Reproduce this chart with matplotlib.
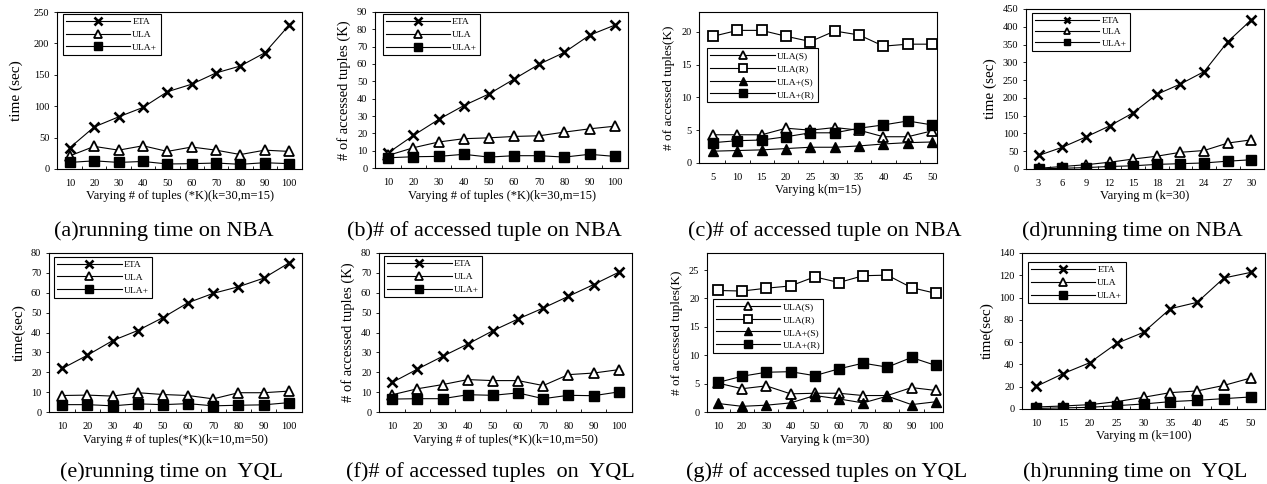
import matplotlib
matplotlib.use("Agg")
import matplotlib.pyplot as plt
from matplotlib.ticker import FixedLocator, NullFormatter

plt.rcParams['font.family'] = ['Liberation Serif', 'DejaVu Serif']

W, H = 1267, 484

# ---------------- data ----------------
a_x = [10, 20, 30, 40, 50, 60, 70, 80, 90, 100]
a_eta = [34, 67, 83, 98, 123, 135, 153, 164, 185, 229]
a_ula = [21, 36, 30, 37, 28, 35, 30, 23, 30, 28]
a_ulap = [10.5, 13, 10.5, 12, 8, 8.5, 9.5, 7.5, 10, 8.5]

b_x = [10, 20, 30, 40, 50, 60, 70, 80, 90, 100]
b_eta = [8.8, 18.8, 28, 36, 42.7, 51.3, 59.9, 66.7, 76.6, 82.4]
b_ula = [7.3, 11.7, 15, 16.9, 17.4, 18.2, 18.6, 20.7, 22.6, 24.1]
b_ulap = [5.9, 6.5, 6.7, 7.9, 6.3, 7.1, 7.1, 6.3, 7.9, 6.7]

c_x = [5, 10, 15, 20, 25, 30, 35, 40, 45, 50]
c_ula_s = [4.3, 4.3, 4.3, 5.3, 5.0, 5.4, 5.0, 4.0, 4.0, 4.9]
c_ula_r = [19.3, 20.2, 20.2, 19.3, 18.5, 20.1, 19.5, 17.8, 18.1, 18.1]
c_ulap_s = [1.8, 1.9, 2.0, 2.2, 2.4, 2.4, 2.6, 2.9, 3.1, 3.2]
c_ulap_r = [3.1, 3.4, 3.5, 4.0, 4.6, 4.6, 5.3, 5.8, 6.4, 5.8]

d_x = [3, 6, 9, 12, 15, 18, 21, 24, 27, 30]
d_eta = [38, 61, 90, 121, 158, 210, 239, 274, 358, 420]
d_ula = [2, 7, 12, 19, 28, 36, 47, 52, 73, 82]
d_ulap = [0.5, 2, 4, 7, 9, 13, 15, 17, 22, 26]

e_x = [10, 20, 30, 40, 50, 60, 70, 80, 90, 100]
e_eta = [21.9, 28.6, 35.9, 41, 47.5, 55, 59.7, 63, 67.3, 74.9]
e_ula = [8.3, 8.5, 8, 9.7, 8.8, 8.3, 6.6, 9.7, 9.7, 10.5]
e_ulap = [3.7, 3.7, 3.1, 4.1, 3.7, 4.2, 3.1, 3.4, 3.6, 4.7]

f_x = [10, 20, 30, 40, 50, 60, 70, 80, 90, 100]
f_eta = [14.9, 21.6, 28, 34.2, 40.9, 46.8, 52.3, 58.2, 64.1, 70.3]
f_ula = [8.7, 11.7, 13.8, 16.3, 15.8, 15.8, 13.3, 18.8, 19.6, 21.3]
f_ulap = [6.5, 6.7, 6.7, 8.7, 8.4, 9.6, 6.7, 8.4, 8.2, 10.1]

g_x = [10, 20, 30, 40, 50, 60, 70, 80, 90, 100]
g_ula_s = [5.1, 4.1, 4.6, 3.2, 3.3, 3.3, 2.9, 2.9, 4.3, 3.8]
g_ula_r = [21.4, 21.3, 21.8, 22.2, 23.8, 22.8, 24.0, 24.1, 21.9, 20.9]
g_ulap_s = [1.5, 1.0, 1.2, 1.6, 2.9, 2.3, 1.6, 2.8, 1.3, 1.8]
g_ulap_r = [5.2, 6.3, 7.0, 7.1, 6.4, 7.6, 8.6, 7.9, 9.6, 8.2]

h_x = [10, 15, 20, 25, 30, 35, 40, 45, 50]
h_eta = [20.3, 31.7, 41.6, 58.9, 68.8, 90, 95.7, 117.6, 122.6]
h_ula = [1.8, 2.7, 3.9, 6.6, 10.5, 14.7, 16.2, 21.2, 27.8]
h_ulap = [0.5, 1, 1.5, 3, 4.5, 6.6, 7.8, 9.3, 10.8]

captions = ["(a)running time on NBA", "(b)# of accessed tuple on NBA",
            "(c)# of accessed tuple on NBA", "(d)running time on NBA",
            "(e)running time on  YQL", "(f)# of accessed tuples  on  YQL",
            "(g)# of accessed tuples on YQL", "(h)running time on  YQL"]

# ---------------- styles ----------------
STY = {
    'ETA': dict(marker='x', ms=6.5, mew=1.9, mfc='black', mec='black'),
    'ULA': dict(marker='^', ms=6.5, mew=1.3, mfc='white', mec='black'),
    'ULA+': dict(marker='s', ms=6.5, mew=1.0, mfc='black', mec='black'),
    'ULA(S)': dict(marker='^', ms=6.5, mew=1.3, mfc='white', mec='black'),
    'ULA(R)': dict(marker='s', ms=6.5, mew=1.3, mfc='white', mec='black'),
    'ULA+(S)': dict(marker='^', ms=6.5, mew=1.0, mfc='black', mec='black'),
    'ULA+(R)': dict(marker='s', ms=6.5, mew=1.0, mfc='black', mec='black'),
}

fig = plt.figure(figsize=(W / 100, H / 100), dpi=100)


def make_ax(l, r, t, b):
    return fig.add_axes([l / W, 1 - b / H, (r - l) / W, (b - t) / H])


def panel(box, xvals, series, ylim, yticks, ylabel, xlabel, leg_anchor,
          xl=(-0.53, None), ylab_fs=10, leg_spacing=0.45, ylab_pad=4,
          mscale=0.9):
    ax = make_ax(*box)
    idx = list(range(len(xvals)))
    for name, vals in series:
        ax.plot(idx, vals, color='black', lw=0.8, label=name, zorder=3,
                **STY[name])
    n = len(xvals)
    right = xl[1] if xl[1] is not None else n - 0.47
    ax.set_xlim(xl[0], right)
    ax.set_ylim(*ylim)
    ax.set_xticks(idx)
    ax.set_xticklabels([str(v) for v in xvals])
    ax.xaxis.set_minor_locator(FixedLocator([i + 0.5 for i in range(n - 1)]))
    ax.xaxis.set_minor_formatter(NullFormatter())
    ax.tick_params(axis='x', which='major', length=0, pad=7, labelsize=7.5)
    ax.tick_params(axis='x', which='minor', length=2.5, direction='in',
                   width=0.6)
    ax.set_yticks(yticks)
    ax.tick_params(axis='y', length=2.5, width=0.6, pad=3, labelsize=7.5)
    for s in ax.spines.values():
        s.set_linewidth(0.8)
    ax.set_ylabel(ylabel, fontsize=ylab_fs, labelpad=ylab_pad)
    ax.set_xlabel(xlabel, fontsize=9, labelpad=2)
    leg = ax.legend(loc='upper left', bbox_to_anchor=leg_anchor,
                    borderaxespad=0, fontsize=6.8, handlelength=6.8,
                    handletextpad=0.2, labelspacing=leg_spacing,
                    borderpad=0.35, fancybox=False, framealpha=1,
                    edgecolor='black', numpoints=1, markerscale=mscale)
    leg.get_frame().set_linewidth(0.8)
    return ax


panel((57, 302, 12, 169), a_x,
      [('ETA', a_eta), ('ULA', a_ula), ('ULA+', a_ulap)],
      (0, 250), range(0, 251, 50), 'time (sec)',
      'Varying # of tuples (*K)(k=30,m=15)', (0.024, 0.987), ylab_fs=11,
      ylab_pad=8)

panel((375, 628, 12, 168), b_x,
      [('ETA', b_eta), ('ULA', b_ula), ('ULA+', b_ulap)],
      (0, 90), range(0, 91, 10), '# of accessed tuples (K)',
      'Varying # of tuples (*K)(k=30,m=15)', (0.03, 0.985), ylab_fs=10.5)

panel((699, 937, 12, 163), c_x,
      [('ULA(S)', c_ula_s), ('ULA(R)', c_ula_r),
       ('ULA+(S)', c_ulap_s), ('ULA+(R)', c_ulap_r)],
      (0, 23), range(0, 21, 5), '# of accessed tuples(K)',
      'Varying k(m=15)', (0.034, 0.76), xl=(-0.58, 9.2), ylab_fs=9.5,
      mscale=0.8)

panel((1026, 1264, 9, 169), d_x,
      [('ETA', d_eta), ('ULA', d_ula), ('ULA+', d_ulap)],
      (0, 450), range(0, 451, 50), 'time (sec)',
      'Varying m (k=30)', (0.025, 0.975), ylab_fs=11, leg_spacing=0.3,
      mscale=0.75)

panel((49, 302, 253, 412), e_x,
      [('ETA', e_eta), ('ULA', e_ula), ('ULA+', e_ulap)],
      (0, 80), range(0, 81, 10), 'time(sec)',
      'Varying # of tuples(*K)(k=10,m=50)', (0.02, 0.975), ylab_fs=11)

panel((379, 632, 253, 412), f_x,
      [('ETA', f_eta), ('ULA', f_ula), ('ULA+', f_ulap)],
      (0, 80), range(0, 81, 10), '# of accessed tuples (K)',
      'Varying # of tuples(*K)(k=10,m=50)', (0.02, 0.98), ylab_fs=10.5)

panel((707, 943, 253, 412), g_x,
      [('ULA(S)', g_ula_s), ('ULA(R)', g_ula_r),
       ('ULA+(S)', g_ulap_s), ('ULA+(R)', g_ulap_r)],
      (0, 28), range(0, 26, 5), '# of accessed tuples(K)',
      'Varying k (m=30)', (0.025, 0.71), xl=(-0.45, 9.3), ylab_fs=9.5,
      mscale=0.8)

panel((1022, 1265, 253, 409), h_x,
      [('ETA', h_eta), ('ULA', h_ula), ('ULA+', h_ulap)],
      (0, 140), range(0, 141, 20), 'time(sec)',
      'Varying m (k=100)', (0.024, 0.94), ylab_fs=11, mscale=0.8)

cap_pos = [(164, 231), (484, 231), (825, 231), (1132, 231),
           (171, 472), (490, 472), (827, 472), (1135, 472)]
for txt, (cx, cy) in zip(captions, cap_pos):
    fig.text(cx / W, 1 - cy / H, txt, ha='center', va='center', fontsize=16)

fig.savefig('out.png', dpi=100)
